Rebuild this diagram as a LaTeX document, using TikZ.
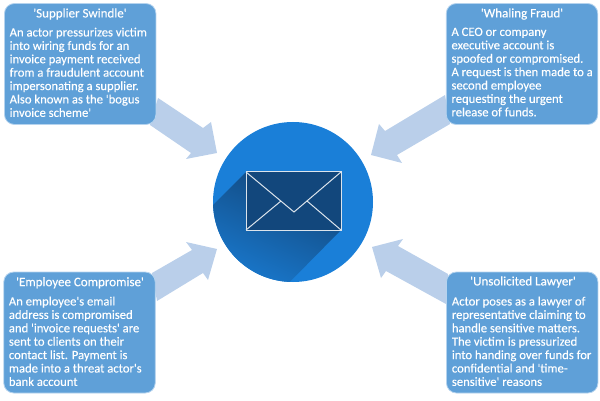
\documentclass[tikz,border=0pt]{standalone}
\usepackage{fontspec}
\defaultfontfeatures[\rmfamily]{}
\setmainfont{Carlito}[UprightFeatures={FakeBold=0.2}]
\definecolor{boxfill}{HTML}{5FA0D8}
\definecolor{boxedge}{HTML}{B5D3EE}
\definecolor{arrowc}{HTML}{BACFEA}
\definecolor{discc}{HTML}{1A7FD8}
\definecolor{envc}{HTML}{12477C}
\definecolor{envedge}{HTML}{DCE4EC}
\tikzset{
  x=1pt,y=-1pt,
  cardbox/.style={draw=boxedge,line width=0.8pt,fill=boxfill,rounded corners=10pt,minimum width=151.5pt,minimum height=121pt,inner sep=0pt},
  cardtitle/.style={text=white,font=\fontsize{13}{13.4}\selectfont,anchor=center,inner sep=0pt},
  cardtext/.style={text=white,font=\fontsize{12.65}{13.4}\selectfont,anchor=north west,align=left,inner sep=0pt},
  bigarrow/.style={fill=arrowc,draw=none},
  envstroke/.style={draw=envedge,line width=1pt,line join=miter},
}
\begin{document}
\begin{tikzpicture}
\useasboundingbox (0,0) rectangle (600,401);
% block arrows
\fill[bigarrow] (158,98) -- (203,128) -- (211,122) -- (217,153) -- (186,159) -- (191,153) -- (150,125) -- cycle;
\fill[bigarrow] (445,95) -- (385,131) -- (379,124) -- (371,155) -- (402,163) -- (397,155) -- (450,124) -- cycle;
\fill[bigarrow] (152,273) -- (192,250) -- (186,242) -- (217,249) -- (208,280) -- (203,273) -- (157,301) -- cycle;
\fill[bigarrow] (448,274) -- (398,246) -- (403,239) -- (372,247) -- (381,278) -- (386,271) -- (446,304) -- cycle;
% disc and long shadow
\fill[discc] (293,202) circle (80);
\begin{scope}
  \clip (293,202) circle (80);
  \shade[bottom color=discc,top color=envc,shading angle=-25]
    (246,172) -- (200,218) -- (200,300) -- (272,300) -- (341,230) -- (341,172) -- cycle;
\end{scope}
% envelope
\fill[envc] (246,172) rectangle (341,230);
\draw[envstroke] (246,172) rectangle (341,230);
\draw[envstroke] (246,172) -- (294,212) -- (341,172);
\draw[envstroke] (246,230) -- (281,201);
\draw[envstroke] (341,230) -- (307,201);
% cards
\node[cardbox] (c1) at (80.2,64) {};
\node[cardbox] (c2) at (522,64) {};
\node[cardbox] (c3) at (79.5,332.5) {};
\node[cardbox] (c4) at (522.2,332.5) {};
\node[cardtitle] (t1) at (80,14) {'Supplier Swindle'};
\node[cardtitle] (t2) at (522,14) {'Whaling Fraud'};
\node[cardtitle] (t3) at (80,282.7) {'Employee Compromise'};
\node[cardtitle] (t4) at (523,282) {'Unsolicited Lawyer'};
\node[cardtext] (b1) at (9.5,27.5) {An actor pressurizes victim\\into wiring funds for an\\invoice payment received\\from a fraudulent account\\impersonating a supplier.\\Also known as the 'bogus\\invoice scheme'};
\node[cardtext] (b2) at (451.3,27.5) {A CEO or company\\executive account is\\spoofed or compromised.\\A request is then made to a\\second employee\\requesting the urgent\\release of funds.};
\node[cardtext] (b3) at (8.7,296.5) {An employee's email\\address is compromised\\and 'invoice requests' are\\sent to clients on their\\contact list. Payment is\\made into a threat actor's\\bank account};
\node[cardtext] (b4) at (451.7,296.5) {Actor poses as a lawyer of\\representative claiming to\\handle sensitive matters.\\The victim is pressurized\\into handing over funds for\\confidential and 'time-\\sensitive' reasons};
\end{tikzpicture}
\end{document}
